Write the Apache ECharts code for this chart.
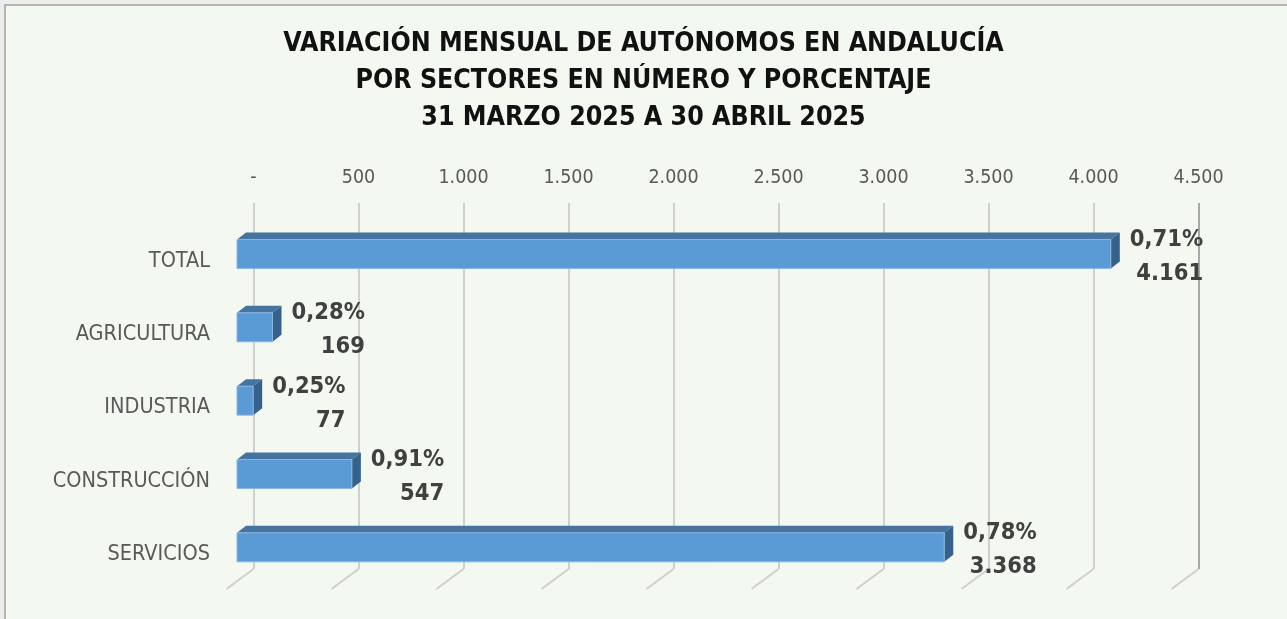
<!DOCTYPE html>
<html>
<head>
<meta charset="utf-8">
<script src="https://cdn.jsdelivr.net/npm/echarts@6/dist/echarts.min.js"></script>
<style>
  html, body { margin: 0; padding: 0; background: #ececec; }
  #chart { width: 1287px; height: 619px; }
</style>
</head>
<body>
<div id="chart"></div>
<script>
// datos: variación mensual de autónomos por sector
const categories = ['TOTAL', 'AGRICULTURA', 'INDUSTRIA', 'CONSTRUCCIÓN', 'SERVICIOS'];
const values = [4161, 169, 77, 547, 3368];
const percents = ['0,71%', '0,28%', '0,25%', '0,91%', '0,78%'];
const gridTicks = [0, 500, 1000, 1500, 2000, 2500, 3000, 3500, 4000, 4500];

const FONT = "'Liberation Sans Narrow', 'Arial Narrow', 'DejaVu Sans Condensed', sans-serif";

function fmtNum(v) {
    return String(v).replace(/\B(?=(\d{3})+(?!\d))/g, '.');
}

const chart = echarts.init(document.getElementById('chart'));

chart.setOption({
    animation: false,
    backgroundColor: 'transparent',
    graphic: [
        { type: 'rect', z: -10, shape: { x: 5, y: 5, width: 1290, height: 620 },
          style: { fill: '#f3f8f0', stroke: '#b3b3b3', lineWidth: 2 } }
    ],
    title: {
        text: 'VARIACIÓN MENSUAL DE AUTÓNOMOS EN ANDALUCÍA\nPOR SECTORES EN NÚMERO Y PORCENTAJE\n31 MARZO 2025 A 30 ABRIL 2025',
        left: 'center',
        top: 26,
        padding: 0,
        textStyle: {
            fontFamily: FONT,
            fontSize: 26.5,
            lineHeight: 37,
            fontWeight: 'bold',
            color: '#111111'
        }
    },
    grid: [
        // pared del fondo (rejilla y etiquetas)
        { left: 253.5, width: 945, top: 203, height: 366 },
        // plano frontal (barras)
        { left: 237, width: 945, top: 217.3, height: 366.7 }
    ],
    xAxis: [
        {
            gridIndex: 0, type: 'value', position: 'top',
            min: 0, max: 4500, interval: 500,
            axisLine: { show: false }, axisTick: { show: false },
            axisLabel: {
                margin: 15,
                color: '#595959', fontSize: 19.5, fontFamily: FONT,
                formatter: function (v) { return v === 0 ? '-' : fmtNum(v); }
            },
            splitLine: {
                lineStyle: {
                    color: ['#d0d0d0', '#d0d0d0', '#d0d0d0', '#d0d0d0', '#d0d0d0',
                            '#d0d0d0', '#d0d0d0', '#d0d0d0', '#d0d0d0', '#a8a8a8'],
                    width: 2
                }
            }
        },
        {
            gridIndex: 1, type: 'value', min: 0, max: 4500, interval: 500,
            show: false
        }
    ],
    yAxis: [
        { gridIndex: 0, type: 'value', min: 0, max: 1, show: false },
        {
            gridIndex: 1, type: 'category', data: categories, inverse: true,
            axisLine: { show: false }, axisTick: { show: false },
            axisLabel: {
                margin: 27, verticalAlign: 'top', lineHeight: 14,
                color: '#595959', fontSize: 21.5, fontFamily: FONT
            }
        }
    ],
    series: [
        {
            // suelo en perspectiva de la rejilla
            type: 'custom',
            xAxisIndex: 0, yAxisIndex: 0,
            data: gridTicks.map(function (v) { return [v, 0]; }),
            encode: { x: 0, y: 1 },
            silent: true,
            renderItem: function (params, api) {
                const p = api.coord([api.value(0), 0]);
                return {
                    type: 'line',
                    shape: { x1: p[0], y1: p[1], x2: p[0] - 27, y2: p[1] + 20 },
                    style: { stroke: '#cfcfcf', lineWidth: 2 }
                };
            }
        },
        {
            // barras 3D
            type: 'custom',
            xAxisIndex: 1, yAxisIndex: 1,
            data: values.map(function (v, i) { return [v, i]; }),
            encode: { x: 0, y: 1 },
            renderItem: function (params, api) {
                const v = api.value(0);
                const i = api.value(1);
                const p0 = api.coord([0, i]);
                const p1 = api.coord([v, i]);
                const h = 29, dx = 9, dy = 7;
                const x0 = p0[0], x1 = p1[0];
                const yT = p0[1] - h / 2, yB = p0[1] + h / 2;
                return {
                    type: 'group',
                    children: [
                        { type: 'polygon',
                          shape: { points: [[x0, yT], [x1, yT], [x1 + dx, yT - dy], [x0 + dx, yT - dy]] },
                          style: { fill: '#4574a1' } },
                        { type: 'polygon',
                          shape: { points: [[x1, yT], [x1 + dx, yT - dy], [x1 + dx, yB - dy], [x1, yB]] },
                          style: { fill: '#36618b' } },
                        { type: 'rect',
                          shape: { x: x0, y: yT, width: x1 - x0, height: h },
                          style: { fill: '#5b9bd5', stroke: '#8ab6e0', lineWidth: 1 } },
                        { type: 'text',
                          style: {
                              text: '{p|' + percents[i] + '}\n{v|' + fmtNum(v) + '}',
                              x: x1 + 19, y: p0[1] + 3,
                              align: 'left', verticalAlign: 'middle',
                              textAlign: 'left', textVerticalAlign: 'middle',
                              rich: {
                                  p: { fontFamily: FONT, fontSize: 23.5, fontWeight: 'bold', fill: '#404040', lineHeight: 34, align: 'right' },
                                  v: { fontFamily: FONT, fontSize: 23.5, fontWeight: 'bold', fill: '#404040', lineHeight: 34, align: 'right' }
                              }
                          } }
                    ]
                };
            }
        }
    ]
});
</script>
</body>
</html>
